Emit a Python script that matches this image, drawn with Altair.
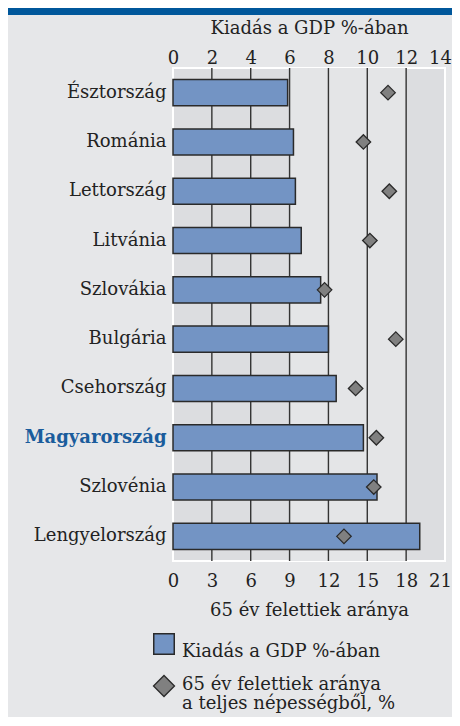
import altair as alt
import pandas as pd

# ---- data ----
countries = ["Észtország", "Románia", "Lettország", "Litvánia", "Szlovákia",
             "Bulgária", "Csehország", "Magyarország", "Szlovénia", "Lengyelország"]
spending = [5.9, 6.2, 6.3, 6.6, 7.6, 8.0, 8.4, 9.8, 10.5, 12.7]      # Kiadás a GDP %-ában
elderly = [16.6, 14.7, 16.7, 15.2, 11.7, 17.2, 14.1, 15.7, 15.5, 13.2]  # 65 év felettiek aránya
top_ticks = [0, 2, 4, 6, 8, 10, 12, 14]
bottom_ticks = [0, 3, 6, 9, 12, 15, 18, 21]
grid_values = [2, 4, 6, 8, 10, 12]
band_from, band_to = [6], [12]

top_title = "Kiadás a GDP %-ában"
bottom_title = "65 év felettiek aránya"
legend_bar = "Kiadás a GDP %-ában"
legend_point = ["65 év felettiek aránya", "a teljes népességből, %"]
highlight = "Magyarország"

FONT = "DejaVu Serif"
FS = 18
TXT = "#222222"
BAR = "#7394c4"
DIAM = "#808080"
EDGE = "#2a2a2a"
HL = "#1a5c9c"

df = pd.DataFrame({"country": countries, "spending": spending, "elderly": elderly})
band_df = pd.DataFrame({"x": band_from, "x2": band_to})
grid_df = pd.DataFrame({"v": grid_values})
one = pd.DataFrame({"a": [0]})

top_scale = alt.Scale(domain=[0, 14], nice=False, zero=True)
bot_scale = alt.Scale(domain=[0, 21], nice=False, zero=True)

y_enc = alt.Y(
    "country:N", sort=countries,
    scale=alt.Scale(paddingInner=0.47, paddingOuter=0.235),
    axis=alt.Axis(title=None, ticks=False, domain=False, labelPadding=7,
                  labelFontSize=FS, labelFont=FONT,
                  labelColor=alt.expr(f"datum.value == '{highlight}' ? '{HL}' : '{TXT}'"),
                  labelFontWeight=alt.expr(f"datum.value == '{highlight}' ? 'bold' : 'normal'")),
)

band = alt.Chart(band_df).mark_rect(color="#e4e5e7").encode(
    x=alt.X("x:Q", scale=top_scale, axis=None), x2="x2:Q")

grid = alt.Chart(grid_df).mark_rule(color="#333333", strokeWidth=1.4).encode(
    x=alt.X("v:Q", scale=top_scale, axis=None))

bars = alt.Chart(df).mark_bar(color=BAR, stroke=EDGE, strokeWidth=1.5).encode(
    x=alt.X("spending:Q", scale=top_scale,
            axis=alt.Axis(orient="top", values=top_ticks, title=top_title,
                          grid=False, ticks=False, tickSize=0, domain=False,
                          labelPadding=5, labelBaseline="alphabetic",
                          labelFontSize=FS, labelFont=FONT, labelColor=TXT,
                          labelFlush=False,
                          labelOffset=alt.expr("datum.value == 14 ? -5 : 0"),
                          titleFontSize=FS, titleFont=FONT, titleColor=TXT,
                          titleFontWeight="normal", titleBaseline="alphabetic",
                          titleY=-35)),
    y=y_enc,
)

points = alt.Chart(df).mark_point(shape="diamond", filled=True, fill=DIAM,
                                  stroke=EDGE, strokeWidth=1.3, size=210,
                                  opacity=1).encode(
    x=alt.X("elderly:Q", scale=bot_scale,
            axis=alt.Axis(orient="bottom", values=bottom_ticks, title=bottom_title,
                          grid=False, ticks=False, tickSize=0, domain=False,
                          labelPadding=25, labelBaseline="alphabetic",
                          labelFontSize=FS, labelFont=FONT, labelColor=TXT,
                          labelFlush=False,
                          labelOffset=alt.expr("datum.value == 21 ? -5 : 0"),
                          titleFontSize=FS, titleFont=FONT, titleColor=TXT,
                          titleFontWeight="normal", titleBaseline="alphabetic",
                          titleY=54)),
    y=y_enc,
)

# header strip
header = alt.Chart(one).mark_rect(color="#00579b").encode(
    x=alt.value(-165), x2=alt.value(279), y=alt.value(-60), y2=alt.value(-53))

# manual legend
leg_sq = alt.Chart(one).mark_square(size=420, fill=BAR, stroke=EDGE, strokeWidth=1.5,
                                    opacity=1).encode(
    x=alt.value(-9), y=alt.value(576))
leg_sq_txt = alt.Chart(one).mark_text(align="left", baseline="alphabetic", fontSize=FS,
                                      font=FONT, color=TXT).encode(
    x=alt.value(9), y=alt.value(589), text=alt.value(legend_bar))
leg_dm = alt.Chart(one).mark_point(shape="diamond", filled=True, fill=DIAM, stroke=EDGE,
                                   strokeWidth=1.3, size=440, opacity=1).encode(
    x=alt.value(-9), y=alt.value(618))
leg_dm_txt = alt.Chart(one).mark_text(align="left", baseline="alphabetic", fontSize=FS,
                                      font=FONT, color=TXT, lineHeight=19).encode(
    x=alt.value(9), y=alt.value(622), text=alt.value(legend_point))

chart = alt.layer(
    header, band, grid, bars, points, leg_sq, leg_sq_txt, leg_dm, leg_dm_txt
).resolve_scale(x="independent").properties(
    width=272, height=493,
    autosize=alt.AutoSizeParams(type="none"),
    padding={"left": 165, "top": 60, "right": 7, "bottom": 156},
).configure(
    background="#e6e7e9", font=FONT,
).configure_view(
    fill="#dcdde0", stroke="white", strokeWidth=2,
)

chart.save("out.html", embed_options={"renderer": "svg", "actions": False})
